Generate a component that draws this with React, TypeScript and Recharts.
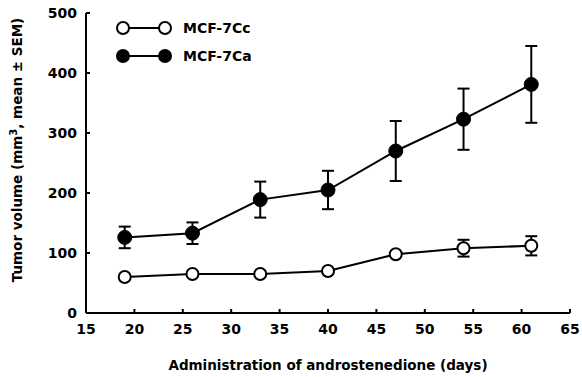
import { ComposedChart, Line, XAxis, YAxis, ErrorBar } from 'recharts';

const days = [19, 26, 33, 40, 47, 54, 61];
const ccMean = [60, 65, 65, 70, 98, 108, 112];
const ccSem = [0, 0, 0, 0, 0, 14, 16];
const caMean = [126, 133, 189, 205, 270, 323, 381];
const caSem = [18, 18, 30, 32, 50, 51, 64];

const xTicks = [15, 20, 25, 30, 35, 40, 45, 50, 55, 60, 65];
const yTicks = [0, 100, 200, 300, 400, 500];

const data = days.map((d, i) => ({
  day: d,
  cc: ccMean[i],
  ccErr: ccSem[i],
  ca: caMean[i],
  caErr: caSem[i],
}));

const FONT = '"DejaVu Sans", sans-serif';

function LegendBox() {
  const rows = [
    { label: 'MCF-7Cc', fill: '#fff' },
    { label: 'MCF-7Ca', fill: '#000' },
  ];
  return (
    <svg width={180} height={60} style={{ position: 'absolute', left: 115, top: 18 }}>
      {rows.map((r, i) => {
        const y = 10 + i * 28;
        return (
          <g key={r.label}>
            <line x1={8} x2={48} y1={y} y2={y} stroke="#000" strokeWidth={2} />
            <circle cx={8} cy={y} r={6} fill={r.fill} stroke="#000" strokeWidth={2} />
            <circle cx={50} cy={y} r={6} fill={r.fill} stroke="#000" strokeWidth={2} />
            <text x={68} y={y + 5} fontFamily={FONT} fontWeight="bold" fontSize={14} fill="#000">
              {r.label}
            </text>
          </g>
        );
      })}
    </svg>
  );
}

function YLabel() {
  return (
    <text
      x={0}
      y={0}
      transform="translate(22,150) rotate(-90)"
      textAnchor="middle"
      fontFamily={FONT}
      fontWeight="bold"
      fontSize={13.5}
      fill="#000"
    >
      Tumor volume (mm<tspan dy={-5} fontSize={10}>3</tspan>
      <tspan dy={5}>, mean ± SEM)</tspan>
    </text>
  );
}

export default function App() {
  return (
    <div style={{ position: 'absolute', left: 0, top: 0, background: '#fff' }}>
      <ComposedChart
        width={582}
        height={377}
        data={data}
        margin={{ top: 13, right: 12, bottom: 34, left: 26 }}
      >
        <XAxis
          dataKey="day"
          type="number"
          domain={[15, 65]}
          ticks={xTicks}
          allowDataOverflow
          stroke="#000"
          strokeWidth={2}
          tickSize={-4}
          tickMargin={15}
          tick={{ fill: '#000', fontFamily: FONT, fontWeight: 'bold', fontSize: 14 }}
          label={{
            value: 'Administration of androstenedione (days)',
            position: 'insideBottom',
            offset: -27,
            fill: '#000',
            fontFamily: FONT,
            fontWeight: 'bold',
            fontSize: 13.5,
          }}
        />
        <YAxis
          type="number"
          domain={[0, 500]}
          ticks={yTicks}
          width={60}
          stroke="#000"
          strokeWidth={2}
          tickSize={-4}
          tickMargin={13}
          tick={{ fill: '#000', fontFamily: FONT, fontWeight: 'bold', fontSize: 14 }}
          label={<YLabel />}
        />
        <Line
          dataKey="cc"
          stroke="#000"
          strokeWidth={2}
          isAnimationActive={false}
          dot={{ r: 6, fill: '#fff', stroke: '#000', strokeWidth: 2 }}
          activeDot={false}
        >
          <ErrorBar dataKey="ccErr" width={6} stroke="#000" strokeWidth={2} direction="y" />
        </Line>
        <Line
          dataKey="ca"
          stroke="#000"
          strokeWidth={2}
          isAnimationActive={false}
          dot={{ r: 7, fill: '#000', stroke: '#000', strokeWidth: 1 }}
          activeDot={false}
        >
          <ErrorBar dataKey="caErr" width={6} stroke="#000" strokeWidth={2} direction="y" />
        </Line>
      </ComposedChart>
      <LegendBox />
    </div>
  );
}
